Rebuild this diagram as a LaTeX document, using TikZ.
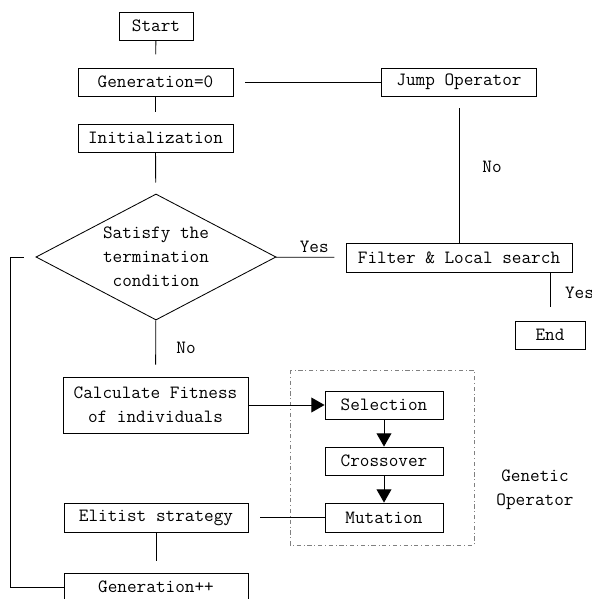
\documentclass[tikz,border=0pt]{standalone}
\usepackage{tikz}
\usetikzlibrary{shapes.geometric,arrows.meta}

\tikzset{
	box/.style={draw, rectangle, inner sep=0pt, minimum height=0.7cm, align=center},
	cond/.style={draw, diamond, aspect=2, inner sep=0pt, minimum width=6cm, minimum height=3.15cm, align=center},
	conn/.style={draw, line width=0.6pt},
	arrow/.style={conn, -{Triangle[length=0.33cm, width=0.37cm]}},
	goper/.style={draw=gray, dash dot, line width=0.6pt},
}

\begin{document}
\begin{tikzpicture}[x=0.025cm, y=-0.025cm, font=\ttfamily\fontsize{13.3}{17}\selectfont, line width=0.6pt]
	\useasboundingbox (0,0) rectangle (592,599);
	% main column
	\node[box, minimum width=1.85cm] (start) at (156,26) {Start};
	\node[box, minimum width=3.875cm] (gen0) at (155.5,82) {Generation=0};
	\node[box, minimum width=3.875cm] (init) at (155.5,138) {Initialization};
	\node[cond] (term) at (156,257) {Satisfy the\\termination\\condition};
	\node[box, minimum width=4.625cm, minimum height=1.4cm] (fit) at (155.5,405) {Calculate Fitness\\of individuals};
	\node[box, minimum width=4.6cm, minimum height=0.725cm] (elit) at (156,517.5) {Elitist strategy};
	\node[box, minimum width=4.6cm] (genpp) at (156,587) {Generation++};
	% right column
	\node[box, minimum width=3.875cm] (jump) at (459,82) {Jump Operator};
	\node[box, minimum width=5.65cm, minimum height=0.725cm] (filter) at (459,257.5) {Filter \& Local search};
	\node[box, minimum width=1.75cm] (end) at (550,335) {End};
	% genetic operator
	\draw[goper] (290,370) rectangle (474,545);
	\node[box, minimum width=2.95cm] (sel) at (384,405) {Selection};
	\node[box, minimum width=2.95cm] (cross) at (384,461) {Crossover};
	\node[box, minimum width=2.95cm, minimum height=0.725cm] (mut) at (384,517.5) {Mutation};
	\node[align=center] (gop) at (535,490) {Genetic\\Operator};
	% connectors
	\draw[conn, shorten >=0.33cm] (start) -- (gen0);
	\draw[conn, shorten >=0.3cm] (gen0) -- (init);
	\draw[conn, shorten >=0.28cm] (init) -- (term);
	\draw[conn, shorten <=0.3cm] (gen0) -- (jump);
	\draw[conn, shorten <=0.3cm] (jump) -- (filter);
	\draw[conn, shorten >=0.28cm] (term) -- node[above, pos=0.55] {Yes} (filter);
	\coordinate (fdown) at (filter.south -| end.north);
	\draw[conn, shorten >=0.33cm] (fdown) -- (end);
	\node[anchor=west] (yes2) at (560,293) {Yes};
	\draw[conn, shorten >=0.3cm] (term) -- (fit);
	\node (no1) at (186,348) {No};
	\node (no2) at (492,167) {No};
	\draw[arrow] (fit) -- (sel);
	\draw[arrow] (sel) -- (cross);
	\draw[arrow] (cross) -- (mut);
	\draw[conn, shorten >=0.3cm] (mut) -- (elit);
	\draw[conn, shorten >=0.28cm] (elit) -- (genpp);
	\coordinate (loop) at (10,257);
	\draw[conn, shorten >=0.3cm] (genpp.west) -| (loop) -- (term.west);
\end{tikzpicture}
\end{document}
